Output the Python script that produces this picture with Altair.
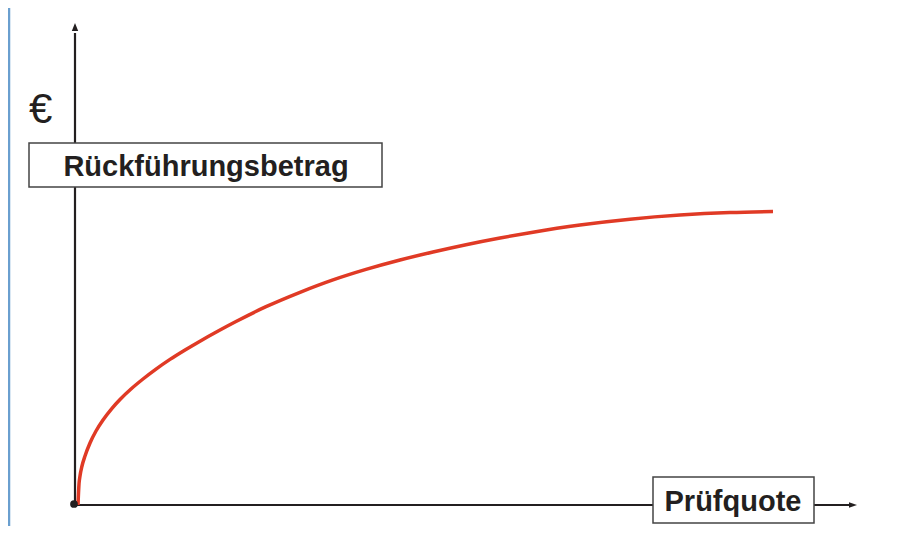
import altair as alt
import pandas as pd

# Curve data (Prüfquote -> Rückführungsbetrag)
quote = [2, 3, 4, 6, 9, 14, 20, 27, 36, 44, 55, 67, 80, 94, 107, 121, 144, 160, 190,
         224, 257, 290, 324, 357, 390, 424, 454, 504, 554, 604, 654, 697]
amount = [0, 21, 29, 39, 49, 62, 74, 85, 96.7, 105.5, 116, 126, 135.9, 145.6, 153.8, 162.1,
          175, 183.5, 198.3, 212.7, 225.1, 235.6, 245, 253, 260.3, 267, 272.3, 280,
          285.8, 289.9, 292.4, 293.4]

y_label = "Rückführungsbetrag"
x_label = "Prüfquote"
unit_label = "€"

W, H = 886, 518
xs = alt.Scale(domain=[-68, 818], nice=False, zero=False)
ys = alt.Scale(domain=[-21, 497], nice=False, zero=False)

curve_df = pd.DataFrame({"x": quote, "y": amount})

def X(f="x"):
    return alt.X(f"{f}:Q", scale=xs, axis=None)

def Y(f="y"):
    return alt.Y(f"{f}:Q", scale=ys, axis=None)

dark = "#231f20"

blue = alt.Chart(pd.DataFrame({"x": [-67], "y": [-21], "y2": [497]})).mark_rule(
    color="#6a9fcf", strokeWidth=2.5).encode(x=X(), y=Y(), y2="y2:Q")

yaxis = alt.Chart(pd.DataFrame({"x": [-1], "y": [0], "y2": [472]})).mark_rule(
    color=dark, strokeWidth=2.2).encode(x=X(), y=Y(), y2="y2:Q")

xaxis = alt.Chart(pd.DataFrame({"x": [-1], "x2": [776], "y": [0]})).mark_rule(
    color=dark, strokeWidth=2.2).encode(x=X(), x2="x2:Q", y=Y())

curve = alt.Chart(curve_df).mark_line(
    color="#e03a25", strokeWidth=3.5, interpolate="monotone").encode(x=X(), y=Y())

dot = alt.Chart(pd.DataFrame({"x": [-2], "y": [1]})).mark_point(
    filled=True, color=dark, size=60, opacity=1, shape="circle").encode(x=X(), y=Y())

arrow_up = alt.Chart(pd.DataFrame({"x": [-1], "y": [478]})).mark_point(
    filled=True, color=dark, size=64, opacity=1, shape="M0,-1L0.8,1L-0.8,1Z").encode(x=X(), y=Y())

arrow_right = alt.Chart(pd.DataFrame({"x": [777], "y": [0]})).mark_point(
    filled=True, color=dark, size=64, opacity=1, shape="M1,0L-1,-0.7L-1,0.7Z").encode(x=X(), y=Y())

boxes = alt.Chart(pd.DataFrame({
    "x": [-47, 577], "x2": [306, 738], "y": [362, 28], "y2": [318, -18]
})).mark_rect(fill="white", stroke="#444444", strokeWidth=1.5).encode(
    x=X(), x2="x2:Q", y=Y(), y2="y2:Q")

labels = alt.Chart(pd.DataFrame({
    "x": [130, 657], "y": [329, -6], "t": [y_label, x_label]
})).mark_text(font="Liberation Sans", fontWeight="bold", fontSize=29, color=dark,
              align="center", baseline="alphabetic").encode(x=X(), y=Y(), text="t:N")

euro = alt.Chart(pd.DataFrame({"x": [-47], "y": [382], "t": [unit_label]})).mark_text(
    font="Liberation Sans", fontSize=42, color=dark, align="left",
    baseline="alphabetic").encode(x=X(), y=Y(), text="t:N")

chart = alt.layer(blue, yaxis, xaxis, curve, dot, arrow_up, arrow_right, boxes, labels, euro).properties(
    width=W, height=H, autosize=alt.AutoSizeParams(type="none"), padding=0,
    background="white"
).configure_view(stroke=None, strokeWidth=0)

chart.save("out.html", embed_options={"renderer": "svg", "actions": False})
